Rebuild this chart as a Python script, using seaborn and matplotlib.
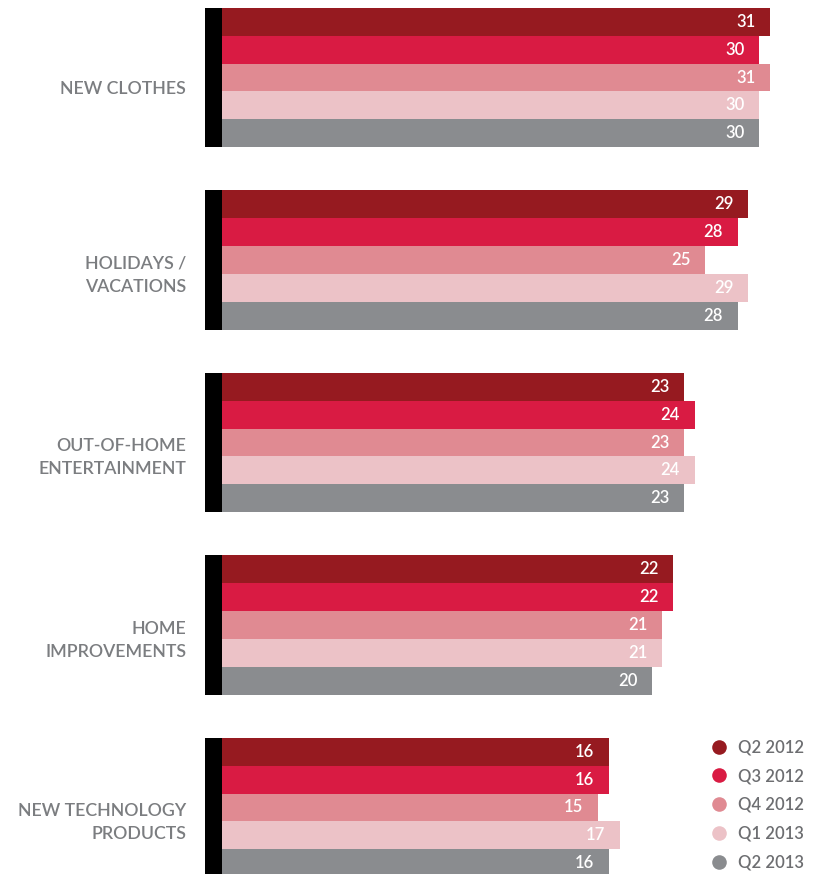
import matplotlib
matplotlib.use("Agg")
import matplotlib.pyplot as plt
import matplotlib.transforms as mtransforms
from matplotlib.lines import Line2D
import seaborn as sns
import pandas as pd

categories = ["NEW CLOTHES", "HOLIDAYS /\nVACATIONS", "OUT-OF-HOME\nENTERTAINMENT",
              "HOME\nIMPROVEMENTS", "NEW TECHNOLOGY\nPRODUCTS"]
series = ["Q2 2012", "Q3 2012", "Q4 2012", "Q1 2013", "Q2 2013"]
q2_2012 = [31, 29, 23, 22, 16]
q3_2012 = [30, 28, 24, 22, 16]
q4_2012 = [31, 25, 23, 21, 15]
q1_2013 = [30, 29, 24, 21, 17]
q2_2013 = [30, 28, 23, 20, 16]
colors = ["#961a20", "#d91b43", "#e08a92", "#ecc2c7", "#8a8c8f"]

# bars start from a stub baseline left of zero (as in the original design)
BASE = -20

sns.set_theme(style="white")
plt.rcParams["font.family"] = ["Lato", "DejaVu Sans"]

rows = []
for s, vals in zip(series, [q2_2012, q3_2012, q4_2012, q1_2013, q2_2013]):
    for c, v in zip(categories, vals):
        rows.append({"category": c, "series": s, "value": v, "length": v - BASE})
df = pd.DataFrame(rows)

fig = plt.figure(figsize=(8.19, 8.74), dpi=100)
ax = fig.add_axes([205 / 819, 0, 614 / 819, 1])

W = 0.762
sns.barplot(data=df, y="category", x="length", hue="series", order=categories,
            hue_order=series, palette=colors, orient="h", width=W, saturation=1,
            legend=False, ax=ax, linewidth=0)

# shift bars so they start at the stub baseline
for cont in ax.containers:
    for p in cont.patches:
        p.set_x(BASE)

# black stub at the left of each group
ax.barh(range(len(categories)), width=-1.63, left=BASE, height=W, color="black", linewidth=0)

# value labels
for cont, s in zip(ax.containers, series):
    vals = df[df.series == s].set_index("category").loc[categories, "value"].tolist()
    for p, v in zip(cont.patches, vals):
        ax.annotate(str(v), xy=(p.get_x() + p.get_width(), p.get_y() + p.get_height() / 2),
                    xytext=(-10.5, 0), textcoords="offset points", ha="right", va="center",
                    color="white", fontsize=12, fontweight="semibold")

ax.set_xlim(-21.63, 35.59)
ax.set_ylim(4.3644, -0.4247)
ax.set_xlabel("")
ax.set_ylabel("")
ax.set_xticks([])
for sp in ax.spines.values():
    sp.set_visible(False)
ax.tick_params(axis="y", length=0, pad=13.5, labelsize=12.8, labelcolor="#7b7d80")
offset = mtransforms.ScaledTranslation(0, -0.10, fig.dpi_scale_trans)
for lab in ax.get_yticklabels():
    lab.set_transform(lab.get_transform() + offset)
    lab.set_linespacing(1.55)
    lab.set_fontweight("semibold")

handles = [Line2D([], [], marker="o", ls="", markersize=10.5, markerfacecolor=c,
                  markeredgewidth=0) for c in colors]
leg = fig.legend(handles, series, loc="upper left", bbox_to_anchor=(701 / 819, 1 - 731 / 874),
                 frameon=False, fontsize=12, labelcolor="#6d6e71", handletextpad=0.55,
                 labelspacing=0.77, handlelength=1.2, borderpad=0)
for t in leg.get_texts():
    t.set_fontweight("semibold")

fig.savefig("out.png", dpi=100)
